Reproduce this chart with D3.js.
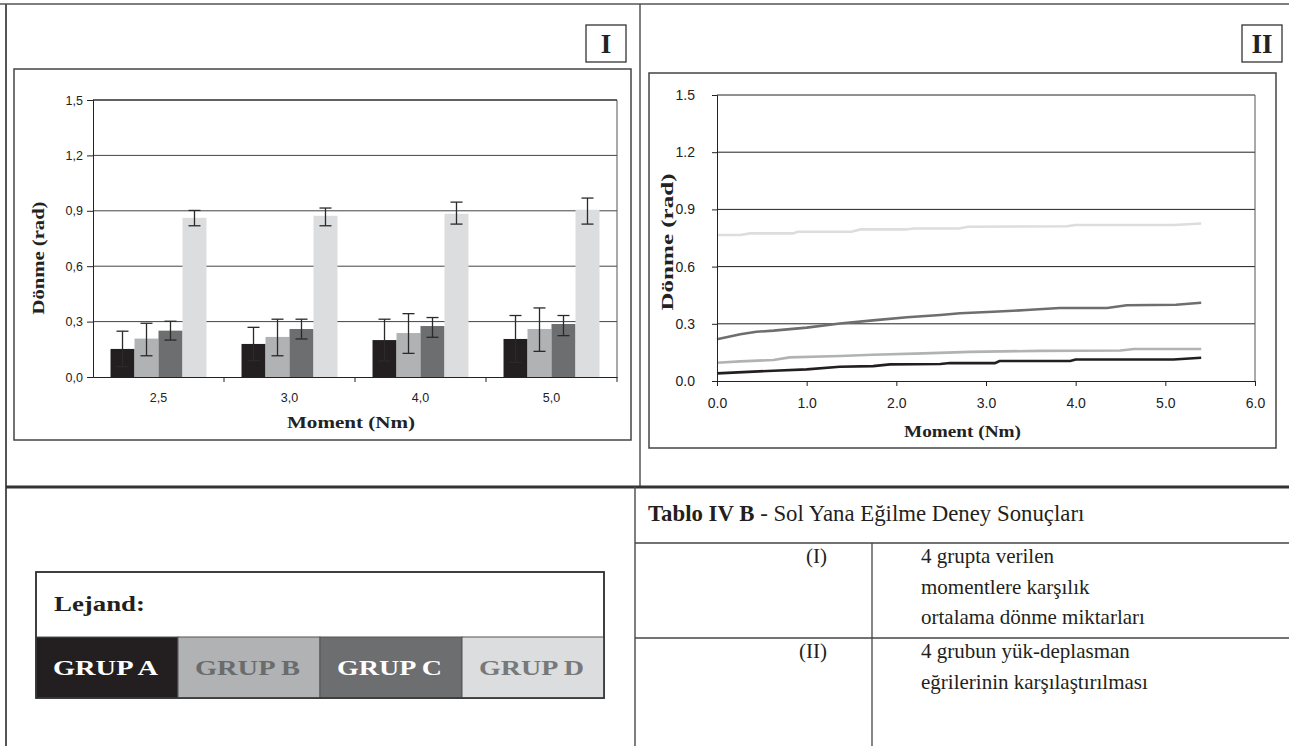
<!DOCTYPE html>
<html>
<head>
<meta charset="utf-8">
<script src="https://cdn.jsdelivr.net/npm/d3@7"></script>
<style>
  body { margin: 0; background: #fff; }
  svg { display: block; }
</style>
</head>
<body>
<div id="chart"></div>
<script>
// bar chart (I): mean rotation per group at each moment
const categories = ["2,5", "3,0", "4,0", "5,0"];
const groups = ["GRUP A", "GRUP B", "GRUP C", "GRUP D"];
const meanA = [0.152, 0.179, 0.200, 0.206];
const meanB = [0.208, 0.217, 0.238, 0.260];
const meanC = [0.251, 0.260, 0.276, 0.287];
const meanD = [0.862, 0.873, 0.884, 0.906];
const upperA = [0.248, 0.269, 0.313, 0.333];
const lowerA = [0.056, 0.089, 0.087, 0.079];
const upperB = [0.291, 0.313, 0.343, 0.374];
const lowerB = [0.115, 0.115, 0.128, 0.139];
const upperC = [0.302, 0.313, 0.322, 0.333];
const lowerC = [0.200, 0.206, 0.215, 0.224];
const upperD = [0.902, 0.915, 0.947, 0.969];
const lowerD = [0.819, 0.819, 0.828, 0.828];
const yTicks = [0, 0.3, 0.6, 0.9, 1.2, 1.5];

// line chart (II): load-displacement curves, [moment, rotation]
const curveA = [[0, 0.04], [0.63, 0.054], [1.0, 0.061], [1.37, 0.075], [1.74, 0.078], [1.93, 0.087],
  [2.49, 0.089], [2.6, 0.094], [3.1, 0.094], [3.15, 0.105], [3.94, 0.105], [4.0, 0.113], [5.09, 0.113], [5.4, 0.122]];
const curveB = [[0, 0.096], [0.26, 0.103], [0.63, 0.11], [0.81, 0.124], [1.37, 0.131], [1.74, 0.138],
  [2.3, 0.145], [2.82, 0.153], [3.6, 0.158], [4.5, 0.16], [4.65, 0.168], [5.4, 0.168]];
const curveC = [[0, 0.219], [0.26, 0.245], [0.44, 0.258], [0.63, 0.264], [1.0, 0.28], [1.37, 0.302],
  [1.74, 0.318], [2.12, 0.334], [2.49, 0.346], [2.71, 0.355], [3.08, 0.363], [3.45, 0.372],
  [3.82, 0.383], [4.35, 0.383], [4.57, 0.397], [5.12, 0.40], [5.4, 0.41]];
const curveD = [[0, 0.766], [0.26, 0.766], [0.37, 0.774], [0.85, 0.774], [0.9, 0.783], [1.5, 0.783],
  [1.6, 0.795], [2.1, 0.795], [2.2, 0.8], [2.7, 0.8], [2.8, 0.809], [3.9, 0.812], [4.0, 0.818],
  [5.1, 0.818], [5.4, 0.826]];
const xTicks = [0, 1, 2, 3, 4, 5, 6];

// table text
const tableTitleBold = "Tablo IV B";
const tableTitleRest = " - Sol Yana Eğilme Deney Sonuçları";
const tableRows = [
  { key: "(I)", lines: ["4 grupta verilen", "momentlere karşılık", "ortalama dönme miktarları"] },
  { key: "(II)", lines: ["4 grubun yük-deplasman", "eğrilerinin karşılaştırılması"] },
];

const colors = ["#231f20", "#b1b2b4", "#6d6e70", "#dcdddf"];
const legendText = ["#ffffff", "#6a6b6d", "#ffffff", "#77787a"];
const serif = "'Liberation Serif', 'Times New Roman', serif";
const sans = "'Liberation Sans', Arial, sans-serif";

const svg = d3.select("#chart").append("svg").attr("width", 1289).attr("height", 746);

// page frame
function line(x1, y1, x2, y2, w, c) {
  svg.append("line").attr("x1", x1).attr("y1", y1).attr("x2", x2).attr("y2", y2)
    .attr("stroke", c || "#555").attr("stroke-width", w);
}
line(0, 4, 1289, 4, 1.5);
line(6, 4, 6, 746, 2);
line(640, 4, 640, 487, 1.5);
line(6, 487, 1289, 487, 3, "#333");
line(635, 487, 635, 746, 1.5);

function fit(sel, len) {
  return sel.attr("textLength", len).attr("lengthAdjust", "spacingAndGlyphs");
}

function panelLabel(x, y, w, h, text) {
  svg.append("rect").attr("x", x).attr("y", y).attr("width", w).attr("height", h)
    .attr("fill", "#fff").attr("stroke", "#333").attr("stroke-width", 1.3);
  svg.append("text").attr("x", x + w / 2).attr("y", y + h / 2 + 9)
    .attr("text-anchor", "middle").attr("font-family", serif).attr("font-weight", "bold")
    .attr("font-size", 27).attr("fill", "#222").text(text);
}
panelLabel(586, 25, 40, 37, "I");
panelLabel(1242, 25, 40, 37, "II");

/* CHART I */
const commaFmt = d3.formatLocale({ decimal: ",", thousands: ".", grouping: [3], currency: ["", ""] }).format(".1f");
svg.append("rect").attr("x", 14).attr("y", 69).attr("width", 617).attr("height", 371)
  .attr("fill", "#fff").attr("stroke", "#444").attr("stroke-width", 1.5);

const x0 = d3.scaleBand().domain(categories).range([93, 617]);
const x1 = d3.scaleBand().domain(groups).range([0, x0.bandwidth()]).paddingOuter(0.73);
const y1 = d3.scaleLinear().domain([0, 1.5]).range([377, 100]);

const g1 = svg.append("g");
g1.append("g").selectAll("line").data(yTicks.slice(1)).join("line")
  .attr("x1", 93).attr("x2", 617).attr("y1", (d) => y1(d)).attr("y2", (d) => y1(d))
  .attr("stroke", "#444").attr("stroke-width", 1);
g1.append("line").attr("x1", 617).attr("x2", 617).attr("y1", 100).attr("y2", 377)
  .attr("stroke", "#555").attr("stroke-width", 1);

const means = [meanA, meanB, meanC, meanD];
const uppers = [upperA, upperB, upperC, upperD];
const lowers = [lowerA, lowerB, lowerC, lowerD];
const barData = [];
categories.forEach((c, i) => {
  groups.forEach((gname, j) => {
    barData.push({ c, g: gname, j, v: means[j][i], hi: uppers[j][i], lo: lowers[j][i] });
  });
});

g1.append("g").selectAll("rect").data(barData).join("rect")
  .attr("x", (d) => x0(d.c) + x1(d.g))
  .attr("y", (d) => y1(d.v))
  .attr("width", x1.bandwidth())
  .attr("height", (d) => y1(0) - y1(d.v))
  .attr("fill", (d) => colors[d.j]);

const err = g1.append("g").attr("stroke", "#2a2a2a").attr("stroke-width", 1.3);
barData.forEach((d) => {
  const cx = x0(d.c) + x1(d.g) + x1.bandwidth() / 2;
  err.append("line").attr("x1", cx).attr("x2", cx).attr("y1", y1(d.hi)).attr("y2", y1(d.lo));
  [d.hi, d.lo].forEach((v) => {
    err.append("line").attr("x1", cx - 6).attr("x2", cx + 6).attr("y1", y1(v)).attr("y2", y1(v));
  });
});

const yAxis1 = g1.append("g").attr("transform", "translate(93,0)")
  .call(d3.axisLeft(y1).tickValues(yTicks).tickFormat(commaFmt).tickSize(6).tickPadding(4));
yAxis1.select(".domain").attr("stroke", "#222");
yAxis1.selectAll(".tick line").attr("stroke", "#222");
yAxis1.selectAll("text").attr("font-family", sans).attr("font-size", 12.5).attr("fill", "#222");

const xAxis1 = g1.append("g").attr("transform", "translate(0,377)")
  .call(d3.axisBottom(x0).tickSize(0).tickPadding(16));
xAxis1.select(".domain").attr("stroke", "#222");
xAxis1.selectAll("text").attr("font-family", sans).attr("font-size", 12.5).attr("fill", "#222");
g1.append("g").selectAll("line").data(categories).join("line")
  .attr("x1", (d) => x0(d) + x0.bandwidth()).attr("x2", (d) => x0(d) + x0.bandwidth())
  .attr("y1", 377).attr("y2", 382).attr("stroke", "#222");
g1.append("line").attr("x1", 93).attr("x2", 617).attr("y1", 100).attr("y2", 100).attr("stroke", "#222");

fit(g1.append("text").attr("x", 287).attr("y", 428).attr("font-family", serif)
  .attr("font-weight", "bold").attr("font-size", 17).attr("fill", "#222").text("Moment (Nm)"), 128);
fit(g1.append("text").attr("transform", "translate(44,258) rotate(-90)").attr("text-anchor", "middle")
  .attr("font-family", serif).attr("font-weight", "bold").attr("font-size", 16).attr("fill", "#222")
  .text("Dönme (rad)"), 113);

/* CHART II */
svg.append("rect").attr("x", 649).attr("y", 73).attr("width", 627).attr("height", 375)
  .attr("fill", "#fff").attr("stroke", "#444").attr("stroke-width", 1.5);

const x2 = d3.scaleLinear().domain([0, 6]).range([717, 1255]);
const y2 = d3.scaleLinear().domain([0, 1.5]).range([381, 95]);
const g2 = svg.append("g");
g2.append("g").selectAll("line").data(yTicks.slice(1)).join("line")
  .attr("x1", 717).attr("x2", 1255).attr("y1", (d) => y2(d)).attr("y2", (d) => y2(d))
  .attr("stroke", "#222").attr("stroke-width", 1);
g2.append("line").attr("x1", 1255).attr("x2", 1255).attr("y1", 95).attr("y2", 381)
  .attr("stroke", "#555");

const curves = [curveD, curveC, curveB, curveA];
const curveColors = [colors[3], colors[2], colors[1], colors[0]];
const lineGen = d3.line().x((d) => x2(d[0])).y((d) => y2(d[1]));
g2.append("g").selectAll("path").data(curves).join("path")
  .attr("d", lineGen).attr("fill", "none")
  .attr("stroke", (d, i) => curveColors[i]).attr("stroke-width", 2.6);

const yAxis2 = g2.append("g").attr("transform", "translate(717,0)")
  .call(d3.axisLeft(y2).tickValues(yTicks).tickFormat(d3.format(".1f")).tickSize(5).tickPadding(17));
yAxis2.select(".domain").attr("stroke", "#222");
yAxis2.selectAll(".tick line").attr("stroke", "#222");
yAxis2.selectAll("text").attr("font-family", sans).attr("font-size", 14).attr("fill", "#222");

const xAxis2 = g2.append("g").attr("transform", "translate(0,381)")
  .call(d3.axisBottom(x2).tickValues(xTicks).tickFormat(d3.format(".1f")).tickSize(5).tickPadding(12));
xAxis2.select(".domain").attr("stroke", "#222");
xAxis2.selectAll(".tick line").attr("stroke", "#222");
xAxis2.selectAll("text").attr("font-family", sans).attr("font-size", 14).attr("fill", "#222");

fit(g2.append("text").attr("x", 904).attr("y", 437).attr("font-family", serif)
  .attr("font-weight", "bold").attr("font-size", 16).attr("fill", "#222").text("Moment (Nm)"), 117);
fit(g2.append("text").attr("transform", "translate(673,242) rotate(-90)").attr("text-anchor", "middle")
  .attr("font-family", serif).attr("font-weight", "bold").attr("font-size", 17).attr("fill", "#222")
  .text("Dönme (rad)"), 137);

/* LEGEND */
const legend = svg.append("g");
legend.append("rect").attr("x", 36).attr("y", 572).attr("width", 568).attr("height", 126)
  .attr("fill", "#fff").attr("stroke", "#333").attr("stroke-width", 1.5);
fit(legend.append("text").attr("x", 54).attr("y", 611).attr("font-family", serif)
  .attr("font-weight", "bold").attr("font-size", 22).attr("fill", "#231f20").text("Lejand:"), 91);
const lx = d3.scaleBand().domain(groups).range([36, 604]);
legend.selectAll("rect.cell").data(groups).join("rect").attr("class", "cell")
  .attr("x", (d) => lx(d)).attr("y", 637).attr("width", lx.bandwidth()).attr("height", 61)
  .attr("fill", (d, i) => colors[i]).attr("stroke", "#555").attr("stroke-width", 1);
legend.selectAll("text.lbl").data(groups).join("text").attr("class", "lbl")
  .attr("x", (d) => lx(d) + lx.bandwidth() / 2 - 1.5).attr("y", 675)
  .attr("text-anchor", "middle").attr("font-family", serif).attr("font-weight", "bold")
  .attr("font-size", 22).attr("fill", (d, i) => legendText[i])
  .attr("textLength", 105).attr("lengthAdjust", "spacingAndGlyphs").text((d) => d);
legend.append("rect").attr("x", 36).attr("y", 572).attr("width", 568).attr("height", 126)
  .attr("fill", "none").attr("stroke", "#333").attr("stroke-width", 1.5);

/* TABLE */
const table = svg.append("g").attr("font-family", serif).attr("fill", "#231f20");
const title = table.append("text").attr("x", 648).attr("y", 521).attr("font-size", 22.8);
title.append("tspan").attr("font-weight", "bold").text(tableTitleBold);
title.append("tspan").text(tableTitleRest);
line(635, 543, 1289, 543, 1.3, "#444");
line(635, 638, 1289, 638, 1.3, "#444");
line(872, 543, 872, 746, 1.3, "#444");
const rowTop = [543, 638];
tableRows.forEach((r, i) => {
  table.append("text").attr("x", 827).attr("y", rowTop[i] + 20).attr("text-anchor", "end")
    .attr("font-size", 21).text(r.key);
  r.lines.forEach((t, k) => {
    table.append("text").attr("x", 921).attr("y", rowTop[i] + 20 + k * 30.5)
      .attr("font-size", 21).text(t);
  });
});
</script>
</body>
</html>
